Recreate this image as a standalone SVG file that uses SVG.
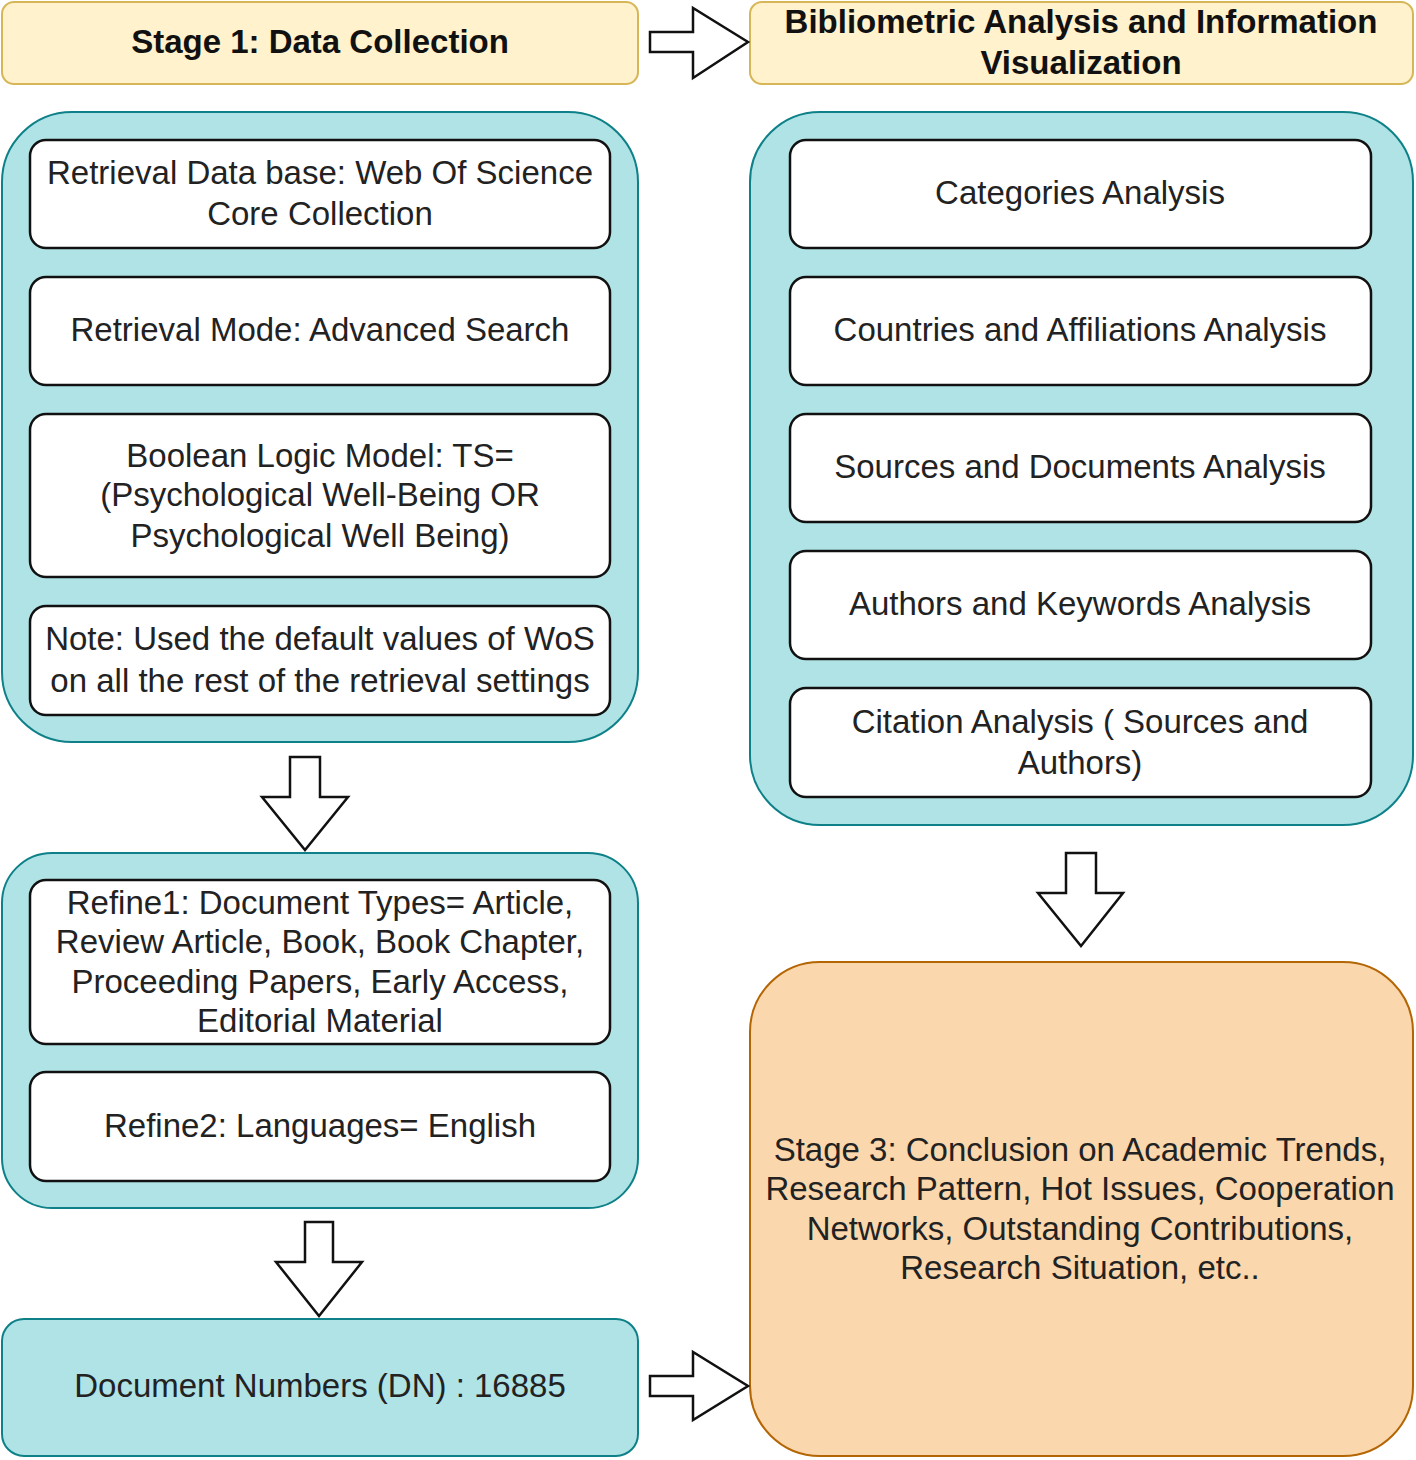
<svg xmlns="http://www.w3.org/2000/svg" width="1416" height="1460" viewBox="0 0 1416 1460">
<style>
.hdr{fill:#fff2cc;stroke:#d6b656;stroke-width:2}
.grp{fill:#b0e3e6;stroke:#0e8088;stroke-width:2}
.box{fill:#ffffff;stroke:#111;stroke-width:2.5}
.fin{fill:#fad7ac;stroke:#b46504;stroke-width:2}
.arr{fill:#ffffff;stroke:#111;stroke-width:2.5;stroke-linejoin:miter}
text{font-family:"Liberation Sans",Arial,sans-serif;font-size:33px;fill:#222;text-anchor:middle}
.b{font-weight:bold;fill:#111}
</style>
<g id="stage1">
<rect class="hdr" x="2" y="2" width="636" height="82" rx="12"/>
<text class="b" x="320" y="53">Stage 1: Data Collection</text>
</g>
<g id="biblio">
<rect class="hdr" x="750" y="2" width="663" height="82" rx="12"/>
<text class="b" x="1081" y="33">Bibliometric Analysis and Information</text>
<text class="b" x="1081" y="74">Visualization</text>
</g>
<g id="retrieval-group">
<rect class="grp" x="2" y="112" width="636" height="630" rx="70"/>
</g>
<g id="db">
<rect class="box" x="30" y="140" width="580" height="108" rx="16"/>
<text x="320" y="184">Retrieval Data base: Web Of Science</text>
<text x="320" y="225">Core Collection</text>
</g>
<g id="mode">
<rect class="box" x="30" y="277" width="580" height="108" rx="16"/>
<text x="320" y="341">Retrieval Mode: Advanced Search</text>
</g>
<g id="boolean">
<rect class="box" x="30" y="414" width="580" height="163" rx="16"/>
<text x="320" y="467">Boolean Logic Model: TS=</text>
<text x="320" y="506">(Psychological Well-Being OR</text>
<text x="320" y="547">Psychological Well Being)</text>
</g>
<g id="note">
<rect class="box" x="30" y="606" width="580" height="109" rx="16"/>
<text x="320" y="650">Note: Used the default values of WoS</text>
<text x="320" y="692">on all the rest of the retrieval settings</text>
</g>
<g id="refine-group">
<rect class="grp" x="2" y="853" width="636" height="355" rx="50"/>
</g>
<g id="refine1">
<rect class="box" x="30" y="880" width="580" height="164" rx="16"/>
<text x="320" y="914">Refine1: Document Types= Article,</text>
<text x="320" y="953">Review Article, Book, Book Chapter,</text>
<text x="320" y="993">Proceeding Papers, Early Access,</text>
<text x="320" y="1032">Editorial Material</text>
</g>
<g id="refine2">
<rect class="box" x="30" y="1072" width="580" height="109" rx="16"/>
<text x="320" y="1137">Refine2: Languages= English</text>
</g>
<g id="dn">
<rect class="grp" x="2" y="1319" width="636" height="137" rx="22"/>
<text x="320" y="1397">Document Numbers (DN) : 16885</text>
</g>
<g id="analysis-group">
<rect class="grp" x="750" y="112" width="663" height="713" rx="70"/>
</g>
<g id="categories">
<rect class="box" x="790" y="140" width="581" height="108" rx="16"/>
<text x="1080" y="204">Categories Analysis</text>
</g>
<g id="countries">
<rect class="box" x="790" y="277" width="581" height="108" rx="16"/>
<text x="1080" y="341">Countries and Affiliations Analysis</text>
</g>
<g id="sources">
<rect class="box" x="790" y="414" width="581" height="108" rx="16"/>
<text x="1080" y="478">Sources and Documents Analysis</text>
</g>
<g id="authors">
<rect class="box" x="790" y="551" width="581" height="108" rx="16"/>
<text x="1080" y="615">Authors and Keywords Analysis</text>
</g>
<g id="citation">
<rect class="box" x="790" y="688" width="581" height="109" rx="16"/>
<text x="1080" y="733">Citation Analysis ( Sources and</text>
<text x="1080" y="774">Authors)</text>
</g>
<g id="stage3">
<rect class="fin" x="750" y="962" width="663" height="494" rx="70"/>
<text x="1080" y="1161">Stage 3: Conclusion on Academic Trends,</text>
<text x="1080" y="1200">Research Pattern, Hot Issues, Cooperation</text>
<text x="1080" y="1240">Networks, Outstanding Contributions,</text>
<text x="1080" y="1279">Research Situation, etc..</text>
</g>
<g id="connectors">
<polygon class="arr" points="650,32 693,32 693,8 748,42 693,78 693,52 650,52"/>
<polygon class="arr" points="290,757 320,757 320,797 348,797 305,850 262,797 290,797"/>
<polygon class="arr" points="305,1222 333,1222 333,1262 362,1262 319,1316 276,1262 305,1262"/>
<polygon class="arr" points="650,1376 693,1376 693,1352 748,1386 693,1420 693,1396 650,1396"/>
<polygon class="arr" points="1066,853 1096,853 1096,893 1123,893 1081,946 1038,893 1066,893"/>
</g>
</svg>
